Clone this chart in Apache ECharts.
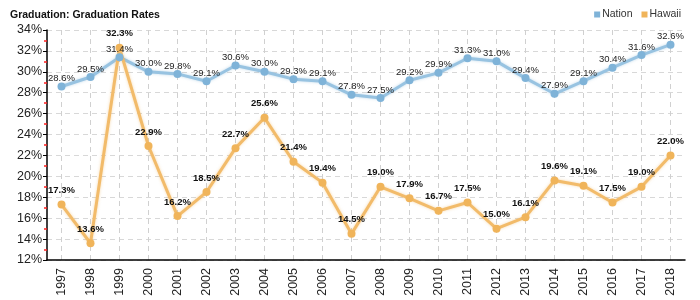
<!DOCTYPE html>
<html><head><meta charset="utf-8">
<script src="https://cdn.jsdelivr.net/npm/echarts@6/dist/echarts.min.js"></script>
<style>html,body{margin:0;padding:0;background:#fff}#c{width:700px;height:300px}</style>
</head><body><div id="c"></div>
<script>
const years = ['1997','1998','1999','2000','2001','2002','2003','2004','2005','2006','2007','2008','2009','2010','2011','2012','2013','2014','2015','2016','2017','2018'];
const nation = [28.6,29.5,31.4,30.0,29.8,29.1,30.6,30.0,29.3,29.1,27.8,27.5,29.2,29.9,31.3,31.0,29.4,27.9,29.1,30.4,31.6,32.6];
const hawaii = [17.3,13.6,32.3,22.9,16.2,18.5,22.7,25.6,21.4,19.4,14.5,19.0,17.9,16.7,17.5,15.0,16.1,19.6,19.1,17.5,19.0,22.0];
const seriesNames = ['Nation','Hawaii'];
const chart = echarts.init(document.getElementById('c'));
const FF = 'Liberation Sans, Arial, sans-serif';
chart.setOption({
  animation:false,
  textStyle:{fontFamily:FF},
  title:{text:'Graduation: Graduation Rates',left:5,top:5,textStyle:{fontSize:10.5,fontWeight:'bold',color:'#111',fontFamily:FF}},
  legend:{data:seriesNames,right:14,top:4,itemWidth:6,itemHeight:6,itemGap:9,icon:'rect',textStyle:{fontSize:10.5,color:'#333',fontFamily:FF,padding:[0,0,0,-3]}},
  grid:{left:47,right:15,top:30,bottom:40},
  xAxis:{type:'category',data:years,boundaryGap:true,
    axisLine:{lineStyle:{color:'#000',width:1.5}},
    axisTick:{alignWithLabel:true,length:4,lineStyle:{color:'#333'}},
    axisLabel:{rotate:90,fontSize:12.5,color:'#222',margin:8,fontFamily:FF},
    splitLine:{show:true,alignWithLabel:true,lineStyle:{color:'#d0d0d0',type:[5,4]}}},
  yAxis:{type:'value',min:12,max:34,interval:2,
    axisLine:{show:true,lineStyle:{color:'#000',width:1.5}},
    axisTick:{show:true,length:4,lineStyle:{color:'#000'}},
    minorTick:{show:true,splitNumber:2,length:3,lineStyle:{color:'#ff2020',width:1.5}},
    axisLabel:{formatter:'{value}%',fontSize:12.5,color:'#222',margin:5,fontFamily:FF},
    splitLine:{show:true,lineStyle:{color:'#d8d8d8',type:[5,4]}}},
  series:[
    {name:'Nation',type:'line',data:nation,color:'#7fb3d8',symbol:'circle',symbolSize:8,
      lineStyle:{width:3,color:'#98c3e1',shadowColor:'rgba(127,179,216,0.5)',shadowBlur:3},itemStyle:{color:'#7fb3d8'},
      label:{show:true,position:'top',distance:-1,formatter:p=>p.value.toFixed(1)+'%',fontSize:9.5,color:'#222',fontFamily:FF}},
    {name:'Hawaii',type:'line',data:hawaii,color:'#f0b45a',symbol:'circle',symbolSize:8,
      lineStyle:{width:3,color:'#f2bb6a',shadowColor:'rgba(240,180,90,0.5)',shadowBlur:3},itemStyle:{color:'#f0b45a'},
      label:{show:true,position:'top',distance:5,formatter:p=>p.value.toFixed(1)+'%',fontSize:9.5,fontWeight:'bold',color:'#111',fontFamily:FF}}
  ]
});
</script></body></html>
